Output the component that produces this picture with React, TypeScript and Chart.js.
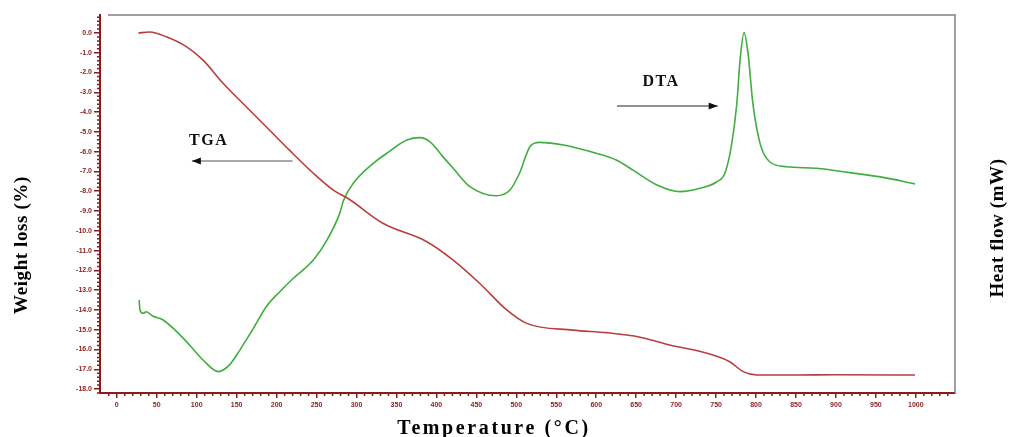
import React, { useEffect, useRef } from "react";
import { Chart, registerables } from "chart.js";

Chart.register(...registerables);

// ---- Data ----
const TGA_TEMP = [27, 41, 62, 87, 108, 133, 162, 187, 216, 246, 271, 290, 333, 388, 421, 454, 488, 513, 571, 613, 655, 692, 742, 767, 784, 801, 850, 900, 999];
const TGA_LOSS = [0, 0.05, -0.19, -0.69, -1.37, -2.54, -3.73, -4.74, -5.92, -7.09, -7.94, -8.38, -9.62, -10.55, -11.48, -12.65, -14.0, -14.68, -15.02, -15.15, -15.38, -15.77, -16.23, -16.62, -17.12, -17.29, -17.29, -17.28, -17.29];

const DTA_TEMP = [28, 29, 33, 37, 45, 58, 75, 91, 108, 127, 141, 154, 171, 187, 204, 221, 246, 263, 279, 284, 296, 321, 338, 363, 379, 392, 408, 421, 442, 475, 492, 504, 517, 529, 559, 600, 625, 646, 676, 705, 730, 751, 761, 769, 776, 780, 785, 790, 796, 805, 817, 838, 876, 917, 959, 999];
const DTA_FLOW = [-13.5, -14.0, -14.17, -14.09, -14.31, -14.51, -15.1, -15.77, -16.53, -17.12, -16.78, -16.03, -14.93, -13.84, -13.08, -12.4, -11.48, -10.47, -9.12, -8.44, -7.6, -6.59, -6.08, -5.41, -5.29, -5.5, -6.25, -6.84, -7.77, -8.23, -7.94, -7.09, -5.75, -5.53, -5.66, -6.08, -6.42, -6.93, -7.68, -8.02, -7.85, -7.52, -7.09, -5.75, -3.55, -1.37, 0.02, -1.03, -3.55, -5.58, -6.51, -6.76, -6.84, -7.06, -7.3, -7.63];

const X_TICKS = [0, 50, 100, 150, 200, 250, 300, 350, 400, 450, 500, 550, 600, 650, 700, 750, 800, 850, 900, 950, 1000];
const Y_TICKS = [0, -1, -2, -3, -4, -5, -6, -7, -8, -9, -10, -11, -12, -13, -14, -15, -16, -17, -18];

const X_TITLE = "Temperature (°C)";
const Y_TITLE = "Weight loss (%)";
const Y2_TITLE = "Heat flow (mW)";

// annotations in data coordinates
const TGA_NOTE = { text: "TGA", x: 115, y: -5.46, arrowFrom: 220, arrowTo: 94, arrowY: -6.47 };
const DTA_NOTE = { text: "DTA", x: 681, y: -2.48, arrowFrom: 626, arrowTo: 752, arrowY: -3.69 };

const TICK_COLOR = "#8b1c1c";
const TGA_COLOR = "#b5403f";
const DTA_COLOR = "#3fae3f";

const decorPlugin = {
  id: "decor",
  afterDraw(chart: any) {
    const { ctx, chartArea, scales } = chart;
    const xs = scales.x;
    const ys = scales.y;
    ctx.save();
    // frame (top and right)
    ctx.strokeStyle = "#808080";
    ctx.lineWidth = 1.5;
    ctx.beginPath();
    ctx.moveTo(chartArea.left + 8, chartArea.top);
    ctx.lineTo(chartArea.right, chartArea.top);
    ctx.lineTo(chartArea.right, chartArea.bottom);
    ctx.stroke();

    // minor ticks
    ctx.strokeStyle = TICK_COLOR;
    ctx.lineWidth = 1.5;
    ctx.beginPath();
    for (let v = -20; v <= 1040; v += 10) {
      if (v % 50 === 0) continue;
      const px = xs.getPixelForValue(v);
      if (px < chartArea.left + 2 || px > chartArea.right - 4) continue;
      ctx.moveTo(px, chartArea.bottom);
      ctx.lineTo(px, chartArea.bottom + 3);
    }
    for (let i = -91; i <= 4; i++) {
      if (i % 5 === 0) continue;
      const v = i * 0.2;
      const py = ys.getPixelForValue(v);
      if (py < chartArea.top || py > chartArea.bottom) continue;
      ctx.moveTo(chartArea.left, py);
      ctx.lineTo(chartArea.left - 3, py);
    }
    ctx.stroke();

    // annotations
    const drawNote = (n: any, headRight: boolean) => {
      ctx.fillStyle = "#111";
      ctx.font = 'bold 16px "Liberation Serif", serif';
      ctx.textAlign = "center";
      ctx.textBaseline = "middle";
      (ctx as any).letterSpacing = "1.5px";
      ctx.fillText(n.text, xs.getPixelForValue(n.x), ys.getPixelForValue(n.y));
      (ctx as any).letterSpacing = "0px";
      const x1 = xs.getPixelForValue(n.arrowFrom);
      const x2 = xs.getPixelForValue(n.arrowTo);
      const y = ys.getPixelForValue(n.arrowY);
      ctx.strokeStyle = headRight ? "#222" : "#555";
      ctx.lineWidth = 1.2;
      ctx.beginPath();
      ctx.moveTo(x1, y);
      ctx.lineTo(x2, y);
      ctx.stroke();
      const dir = x2 > x1 ? 1 : -1;
      ctx.fillStyle = "#111";
      ctx.beginPath();
      ctx.moveTo(x2, y);
      ctx.lineTo(x2 - dir * 9, y - 3.5);
      ctx.lineTo(x2 - dir * 9, y + 3.5);
      ctx.closePath();
      ctx.fill();
    };
    drawNote(TGA_NOTE, false);
    drawNote(DTA_NOTE, true);

    // axis titles
    ctx.fillStyle = "#000";
    ctx.textAlign = "center";
    ctx.textBaseline = "middle";
    ctx.font = 'bold 20px "Liberation Serif", serif';
    (ctx as any).letterSpacing = "2.6px";
    ctx.fillText(X_TITLE, 494, 429);
    (ctx as any).letterSpacing = "0px";

    ctx.font = 'bold 19px "Liberation Serif", serif';
    (ctx as any).letterSpacing = "0.6px";
    ctx.save();
    ctx.translate(22, 245);
    ctx.rotate(-Math.PI / 2);
    ctx.fillText(Y_TITLE, 0, 0);
    ctx.restore();

    ctx.save();
    ctx.translate(998, 228);
    ctx.rotate(-Math.PI / 2);
    ctx.fillText(Y2_TITLE, 0, 0);
    ctx.restore();
    (ctx as any).letterSpacing = "0px";

    ctx.restore();
  },
};

export default function App() {
  const canvasRef = useRef<HTMLCanvasElement | null>(null);

  useEffect(() => {
    if (!canvasRef.current) return;
    const tgaData = TGA_TEMP.map((t, i) => ({ x: t, y: TGA_LOSS[i] }));
    const dtaData = DTA_TEMP.map((t, i) => ({ x: t, y: DTA_FLOW[i] }));
    const chart = new Chart(canvasRef.current, {
      type: "line",
      data: {
        datasets: [
          {
            label: "TGA",
            data: tgaData,
            borderColor: TGA_COLOR,
            borderWidth: 1.6,
            pointRadius: 0,
            cubicInterpolationMode: "monotone",
            yAxisID: "y",
          },
          {
            label: "DTA",
            data: dtaData,
            borderColor: DTA_COLOR,
            borderWidth: 1.6,
            pointRadius: 0,
            cubicInterpolationMode: "monotone",
            yAxisID: "y2",
          },
        ],
      },
      options: {
        responsive: false,
        animation: false,
        layout: { padding: { left: 0, top: 15, right: 56, bottom: 0 } },
        plugins: { legend: { display: false }, tooltip: { enabled: false } },
        scales: {
          x: {
            type: "linear",
            min: -21,
            max: 1049,
            afterBuildTicks: (s: any) => {
              s.ticks = X_TICKS.map((v) => ({ value: v }));
            },
            afterFit: (s: any) => {
              s.height = 44;
            },
            border: { display: true, color: TICK_COLOR, width: 2 },
            grid: { display: true, drawOnChartArea: false, drawTicks: true, tickLength: 5, color: TICK_COLOR, lineWidth: 1.5 },
            ticks: {
              autoSkip: false,
              maxRotation: 0,
              padding: 3,
              color: TICK_COLOR,
              font: { family: '"Liberation Sans", sans-serif', size: 7, weight: "bold" },
              callback: (v: any) => String(v),
            },
          },
          y: {
            type: "linear",
            min: -18.2,
            max: 0.91,
            afterBuildTicks: (s: any) => {
              s.ticks = Y_TICKS.map((v) => ({ value: v }));
            },
            afterFit: (s: any) => {
              s.width = 100;
            },
            border: { display: true, color: TICK_COLOR, width: 2 },
            grid: { display: true, drawOnChartArea: false, drawTicks: true, tickLength: 6, color: TICK_COLOR, lineWidth: 1.5 },
            ticks: {
              autoSkip: false,
              padding: 2,
              color: TICK_COLOR,
              font: { family: '"Liberation Sans", sans-serif', size: 7, weight: "bold" },
              callback: (v: any) => Number(v).toFixed(1),
            },
          },
          y2: {
            type: "linear",
            display: false,
            min: -18.2,
            max: 0.91,
          },
        },
      },
      plugins: [decorPlugin],
    } as any);
    return () => chart.destroy();
  }, []);

  return (
    <div style={{ position: "fixed", left: 0, top: 0, width: 1011, height: 437, background: "#fff" }}>
      <canvas ref={canvasRef} width={1011} height={437} style={{ display: "block" }} />
    </div>
  );
}
